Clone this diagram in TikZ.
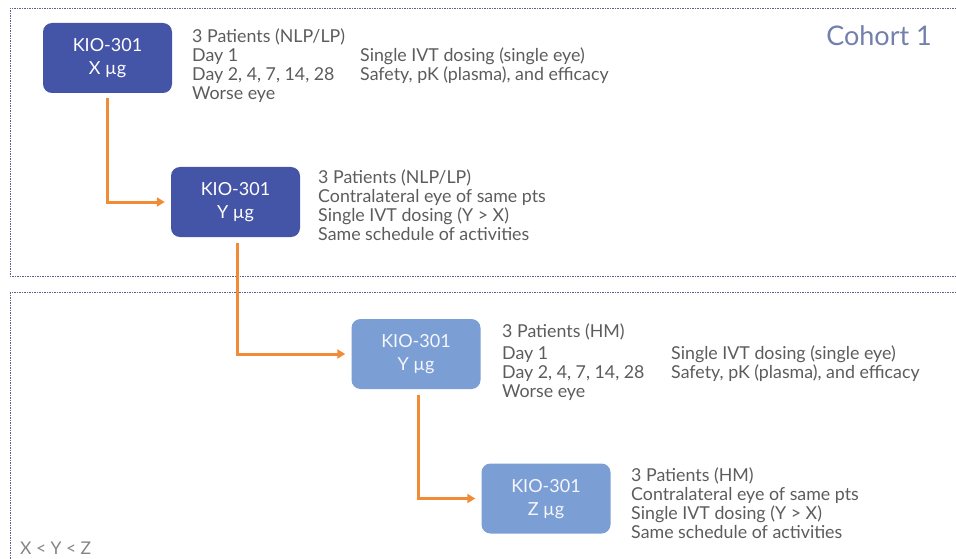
\documentclass[tikz,border=0pt]{standalone}
\usepackage{fontspec}
\setmainfont{Lato}
\usetikzlibrary{arrows.meta}
\begin{document}
\begin{tikzpicture}[x=1pt,y=-1pt,
  darkbox/.style={rounded corners=9pt, fill=kdark, minimum width=129pt, minimum height=70pt, text=white, align=center, font=\fontsize{18}{23}\selectfont, inner sep=0pt, text depth=3pt},
  lightbox/.style={darkbox, fill=klight, text=white!92!klight},
  info/.style={anchor=base west, align=left, text=ktext, font=\fontsize{17.8}{19}\selectfont, inner sep=0pt},
  flow/.style={draw=korange, line width=3pt, -{Triangle[length=8pt,width=9pt]}},
  frame/.style={draw=kframe, line width=0.7pt, dash pattern=on 1.5pt off 1pt}
]
\useasboundingbox (0,0) rectangle (956,559);
\definecolor{kdark}{RGB}{68,84,166}
\definecolor{klight}{RGB}{123,158,212}
\definecolor{korange}{RGB}{240,140,55}
\definecolor{ktext}{RGB}{92,92,92}
\definecolor{kframe}{RGB}{95,100,135}
\definecolor{kcohort}{RGB}{115,128,172}
\begin{scope}
\clip (0,0) rectangle (956,559);
\draw[frame] (10,8) rectangle (970,276);
\draw[frame] (10,292) rectangle (970,570);
\end{scope}
\node[darkbox] (b1) at (107.5,58) {KIO-301\\X µg};
\node[darkbox] (b2) at (235.5,202) {KIO-301\\Y µg};
\node[lightbox] (b3) at (416,354) {KIO-301\\Y µg};
\node[lightbox] (b4) at (546,498.5) {KIO-301\\Z µg};
\node[info] (t1) at (192,99.5) {3 Patients (NLP/LP)\\\makebox[168pt][l]{Day 1}Single IVT dosing (single eye)\\\makebox[168pt][l]{Day 2, 4, 7, 14, 28}Safety, pK (plasma), and efficacy\\Worse eye};
\node[info] (t2) at (318,240.5) {3 Patients (NLP/LP)\\Contralateral eye of same pts\\Single IVT dosing (Y > X)\\Same schedule of activities};
\node[info] (t3) at (502,397.5) {3 Patients (HM)\\[3pt]\makebox[169pt][l]{Day 1}Single IVT dosing (single eye)\\\makebox[169pt][l]{Day 2, 4, 7, 14, 28}Safety, pK (plasma), and efficacy\\Worse eye};
\node[info] (t4) at (631,538.5) {3 Patients (HM)\\Contralateral eye of same pts\\Single IVT dosing (Y > X)\\Same schedule of activities};
\node[anchor=east, text=kcohort, font=\fontsize{27}{30}\selectfont, inner sep=0pt] (cohort) at (932,36) {Cohort 1};
\node[anchor=west, text=ktext!75, font=\fontsize{17.5}{18}\selectfont, inner sep=0pt] (xyz) at (20,548) {X < Y < Z};
\draw[flow] ([yshift=-5pt]b1.south) |- ([xshift=-6pt]b2.west);
\draw[flow] ([xshift=1.5pt,yshift=-6pt]b2.south) |- ([xshift=-6pt]b3.west);
\draw[flow] ([xshift=2pt,yshift=-6pt]b3.south) |- ([xshift=-6pt]b4.west);
\end{tikzpicture}
\end{document}
